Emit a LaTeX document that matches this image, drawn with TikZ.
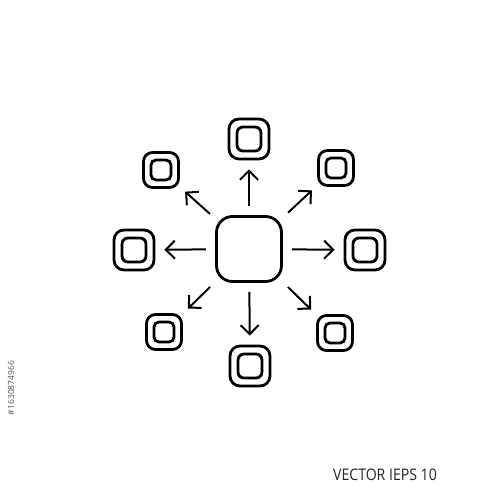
\documentclass[tikz,border=0pt]{standalone}
\usepackage{fontspec}
\setmainfont{Open Sans}
\usetikzlibrary{arrows.meta}
\begin{document}
\begin{tikzpicture}[x=1pt,y=-1pt,
  centerbox/.style={draw, line width=2.8pt, rounded corners=16pt, minimum size=65pt, inner sep=0pt},
  bigout/.style={draw, line width=2.8pt, rounded corners=10pt, minimum size=40pt, inner sep=0pt},
  bigin/.style={draw, line width=2.8pt, rounded corners=6pt, minimum size=24pt, inner sep=0pt},
  smallout/.style={draw, line width=2.8pt, rounded corners=9pt, minimum size=35pt, inner sep=0pt},
  smallin/.style={draw, line width=2.8pt, rounded corners=5pt, minimum size=20pt, inner sep=0pt},
  arr/.style={line width=2pt, -{Straight Barb[length=9pt, width=18pt, line width=2pt]}},
  straightarr/.style={arr, shorten <=9pt, shorten >=9pt},
  diagarr/.style={arr, shorten <=7pt, shorten >=7pt}]
\useasboundingbox (0,0) rectangle (500,500);
\fill[white] (0,0) rectangle (500,500);
\node[centerbox] (c) at (249,249) {};
% straight neighbours
\node[bigout] (t) at (249,139) {}; \node[bigin] (ti) at (t) {};
\node[bigout] (b) at (250,366) {}; \node[bigin] (bi) at (b) {};
\node[bigout] (l) at (134,250) {}; \node[bigin] (li) at (l) {};
\node[bigout] (r) at (365,250) {}; \node[bigin] (ri) at (r) {};
% diagonal neighbours
\node[smallout] (tl) at (161,170) {}; \node[smallin] (tli) at (tl) {};
\node[smallout] (tr) at (336,168) {}; \node[smallin] (tri) at (tr) {};
\node[smallout] (bl) at (164,332) {}; \node[smallin] (bli) at (bl) {};
\node[smallout] (br) at (335,333) {}; \node[smallin] (bri) at (br) {};
% arrows
\draw[straightarr] (c) -- (t);
\draw[straightarr] (c) -- (b);
\draw[straightarr] (c) -- (l);
\draw[straightarr] (c) -- (r);
\draw[diagarr] (c) -- (tl);
\draw[diagarr] (c) -- (tr);
\draw[diagarr] (c) -- (bl);
\draw[diagarr] (c) -- (br);
% texts
\node[anchor=base west, inner sep=0pt, xscale=0.88, font=\fontsize{16}{18}\selectfont, text=black!85] (lbl) at (333,480) {VECTOR IEPS 10};
\node[rotate=90, inner sep=0pt, font=\fontsize{8.5}{9}\selectfont, text=black!65] (num) at (11,388) {\#1630874966};
\end{tikzpicture}
\end{document}
